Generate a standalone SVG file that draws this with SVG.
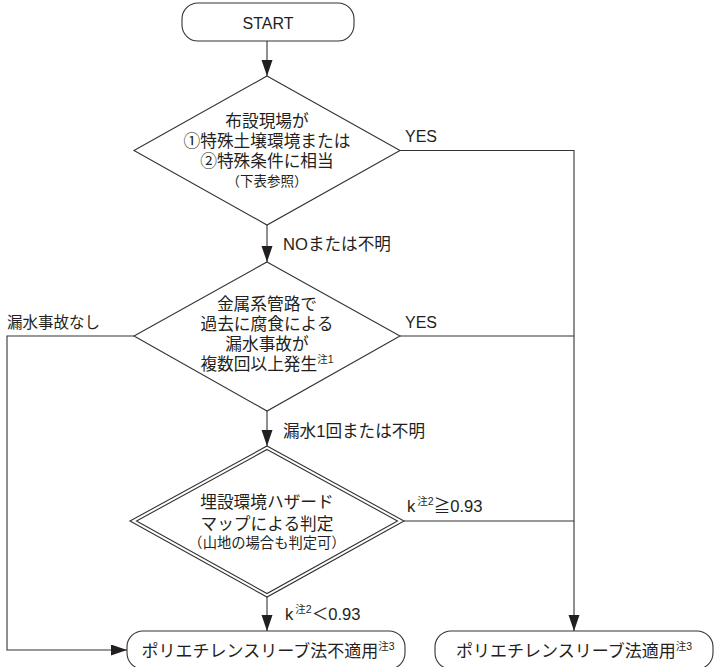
<svg xmlns="http://www.w3.org/2000/svg" width="714" height="667" viewBox="0 0 714 667">
<defs>
<style>
.ln{fill:none;stroke:#333;stroke-width:1.1}
.bx{fill:#fff;stroke:#333;stroke-width:1.1}
text{font-family:"Liberation Sans","Noto Sans CJK JP",sans-serif;fill:#231f20}
.c{text-anchor:middle;font-size:16.7px}
.s{text-anchor:middle;font-size:14.3px}
.l{font-size:16px}
.sup{font-size:10.5px}
</style>
<marker id="ah" markerUnits="userSpaceOnUse" markerWidth="17" markerHeight="12" refX="16" refY="5.5" orient="auto">
<path d="M0,0 L16,5.5 L0,11 z" fill="#231f20"/>
</marker>
</defs>
<rect width="714" height="667" fill="#fff"/>
<g id="connectors">
<line class="ln" x1="267" y1="41" x2="267" y2="76" marker-end="url(#ah)"/>
<line class="ln" x1="267" y1="225" x2="267" y2="262" marker-end="url(#ah)"/>
<line class="ln" x1="267" y1="411" x2="267" y2="446" marker-end="url(#ah)"/>
<line class="ln" x1="267" y1="597" x2="267" y2="631" marker-end="url(#ah)"/>
<polyline class="ln" points="400,150.5 574,150.5 574,631" marker-end="url(#ah)"/>
<line class="ln" x1="400" y1="336" x2="574" y2="336"/>
<line class="ln" x1="404" y1="521" x2="574" y2="521"/>
<polyline class="ln" points="134,336 7,336 7,650 127,650" marker-end="url(#ah)"/>
<text class="l" x="405" y="142">YES</text>
<text class="l" x="283" y="250" style="font-size:16.6px">NOまたは不明</text>
<text class="l" x="7" y="328" style="font-size:15.5px">漏水事故なし</text>
<text class="l" x="405" y="328">YES</text>
<text class="l" x="283" y="437" style="font-size:16.6px">漏水1回または不明</text>
<text class="l" x="407" y="512" style="font-size:16.6px">k<tspan class="sup" dx="2" dy="-7">注2</tspan><tspan dy="7">≧0.93</tspan></text>
<text class="l" x="285" y="620" style="font-size:16.6px">k<tspan class="sup" dx="2" dy="-7">注2</tspan><tspan dy="7">＜0.93</tspan></text>
</g>
<g id="start">
<rect class="bx" x="182" y="3" width="172" height="38" rx="16"/>
<text class="l" x="268" y="29" text-anchor="middle">START</text>
</g>
<g id="decision1">
<polygon class="bx" points="267,76 400,150.5 267,225 134,150.5"/>
<text class="c" x="267" y="127">布設現場が</text>
<text class="c" x="267" y="147">①特殊土壌環境または</text>
<text class="c" x="267" y="167">②特殊条件に相当</text>
<text class="s" x="267" y="186" style="font-size:13.5px">（下表参照）</text>
</g>
<g id="decision2">
<polygon class="bx" points="267,262 400,336 267,411 134,336"/>
<text class="c" x="267" y="310">金属系管路で</text>
<text class="c" x="267" y="330">過去に腐食による</text>
<text class="c" x="267" y="350">漏水事故が</text>
<text class="c" x="267" y="370">複数回以上発生<tspan class="sup" dy="-7">注1</tspan></text>
</g>
<g id="decision3">
<polygon class="bx" points="267,446 404,521 267,597 130,521"/>
<polygon class="ln" points="267,449.5 397.5,521 267,593.5 136.5,521"/>
<text class="c" x="267" y="508">埋設環境ハザード</text>
<text class="c" x="267" y="530">マップによる判定</text>
<text class="s" x="267" y="548">（山地の場合も判定可）</text>
</g>
<g id="end_no">
<rect class="bx" x="127" y="631" width="278" height="38" rx="16"/>
<text class="c" x="268" y="657" style="font-size:17px">ポリエチレンスリーブ法不適用<tspan class="sup" dy="-7">注3</tspan></text>
</g>
<g id="end_yes">
<rect class="bx" x="435" y="631" width="278" height="38" rx="16"/>
<text class="c" x="574" y="657" style="font-size:17px">ポリエチレンスリーブ法適用<tspan class="sup" dy="-7">注3</tspan></text>
</g>
</svg>
